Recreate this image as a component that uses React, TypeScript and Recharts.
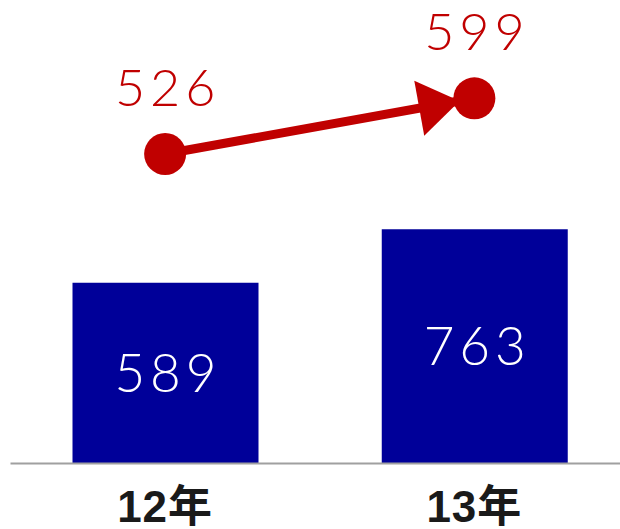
import React from 'react'
import { ComposedChart, Bar, Line, XAxis, YAxis, LabelList } from 'recharts'

const years = ['12年', '13年']
const barValues = [589, 763]
const lineValues = [526, 599]

const data = years.map((year, i) => ({ year, bar: barValues[i], line: lineValues[i] }))

const RED = '#c00000'
const BLUE = '#000099'
const NUM_FONT = 'Lato, "Open Sans", "DejaVu Sans", sans-serif'

function YearTick(props: any) {
  const { x, y, payload } = props
  return (
    <text
      x={x}
      y={y}
      dy={58}
      textAnchor="middle"
      fontFamily='"Liberation Sans", Arial, "Noto Sans CJK JP", sans-serif'
      fontWeight={700}
      fontSize={44}
      letterSpacing={1}
      fill="#1a1a1a"
    >
      {payload.value}
    </text>
  )
}

function PointLabel(props: any) {
  const x = props.x ?? props.viewBox?.x
  const y = props.y ?? props.viewBox?.y
  return (
    <text
      x={x + 2.5}
      y={y - 48}
      textAnchor="middle"
      fontFamily={NUM_FONT}
      fontWeight={300}
      fontSize={52}
      letterSpacing={5}
      fill={RED}
    >
      {props.value}
    </text>
  )
}

export default function App() {
  return (
    <div style={{ position: 'absolute', left: 0, top: 0, width: 620, height: 529, overflow: 'hidden', background: '#fff' }}>
      {/* arrow head used by the red line */}
      <svg width={0} height={0} style={{ position: 'absolute' }}>
        <defs>
          <marker
            id="arrowHead"
            markerUnits="userSpaceOnUse"
            markerWidth={60}
            markerHeight={60}
            refX={56}
            refY={28}
            orient="auto"
            overflow="visible"
          >
            <path d="M0,0 L41,28 L0,56 Z" fill={RED} />
          </marker>
        </defs>
      </svg>
      <ComposedChart
        width={640}
        height={529}
        data={data}
        margin={{ top: 20, right: 11, left: 10.5, bottom: 5.5 }}
      >
        <XAxis
          dataKey="year"
          height={60}
          tickLine={false}
          tickSize={0}
          tickMargin={0}
          axisLine={{ stroke: '#a0a0a0', strokeWidth: 2 }}
          tick={<YearTick />}
          interval={0}
        />
        <YAxis yAxisId="bar" hide domain={[0, 1444.6]} />
        <YAxis yAxisId="line" hide domain={[120.4, 701.6]} />
        <Bar yAxisId="bar" dataKey="bar" fill={BLUE} barSize={186} isAnimationActive={false}>
          <LabelList
            dataKey="bar"
            position="center"
            fill="#ffffff"
            fontFamily={NUM_FONT}
            fontWeight={300}
            fontSize={53}
            letterSpacing={5}
            dx={2.5}
          />
        </Bar>
        <Line
          yAxisId="line"
          dataKey="line"
          stroke={RED}
          strokeWidth={9}
          markerEnd="url(#arrowHead)"
          dot={{ r: 21, fill: RED, stroke: 'none' }}
          activeDot={false}
          isAnimationActive={false}
        >
          <LabelList dataKey="line" content={<PointLabel />} />
        </Line>
      </ComposedChart>
    </div>
  )
}
